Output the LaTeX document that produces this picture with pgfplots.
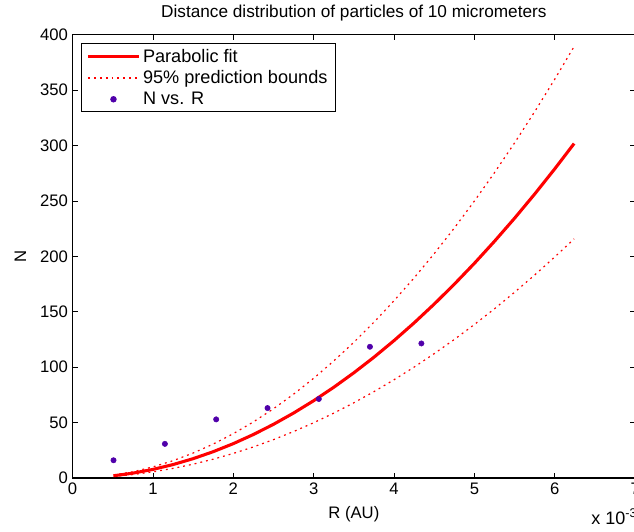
\documentclass[border=0pt]{standalone}
\usepackage{pgfplots}
\pgfplotsset{compat=1.18}
\usepackage{pgfplotstable}
\usepackage{fontspec}
\setmainfont{Liberation Sans}
\definecolor{ptcol}{RGB}{80,0,170}
\pgfplotstableread{
x y
0.51 2.02
0.75 4.36
1.00 7.75
1.25 12.11
1.50 17.44
1.75 23.73
2.00 31.00
2.25 39.23
2.50 48.44
2.75 58.61
3.00 69.75
3.25 81.86
3.50 94.94
3.75 108.98
4.00 124.00
4.25 139.98
4.50 156.94
4.75 174.86
5.00 193.75
5.25 213.61
5.50 234.44
5.75 256.23
6.00 279.00
6.24 301.77
}\fittab
\pgfplotstableread{
x y
0.51 2.61
0.75 5.62
1.00 10.00
1.25 15.62
1.50 22.50
1.75 30.61
2.00 39.99
2.25 50.61
2.50 62.49
2.75 75.61
3.00 89.98
3.25 105.60
3.50 122.47
3.75 140.58
4.00 159.96
4.25 180.57
4.50 202.45
4.75 225.57
5.00 249.94
5.25 275.56
5.50 302.43
5.75 330.54
6.00 359.91
6.24 389.28
}\uppertab
\pgfplotstableread{
x y
0.51 1.44
0.75 3.12
1.00 5.54
1.25 8.66
1.50 12.47
1.75 16.97
2.00 22.17
2.25 28.05
2.50 34.63
2.75 41.91
3.00 49.87
3.25 58.53
3.50 67.88
3.75 77.92
4.00 88.66
4.25 100.09
4.50 112.21
4.75 125.02
5.00 138.53
5.25 152.73
5.50 167.62
5.75 183.20
6.00 199.49
6.24 215.77
}\lowertab
\pgfplotstableread{
x y
0.510 16.0
1.149 30.8
1.787 52.9
2.426 63.1
3.064 71.3
3.700 118.4
4.340 121.4
}\ptstab
\begin{document}
\begin{tikzpicture}
\begin{axis}[
  scale only axis,
  width=422pt, height=332.5pt,
  anchor=south west, at={(0,0)},
  xmin=0, xmax=7, ymin=0, ymax=400,
  xtick={0,1,...,7}, ytick={0,50,...,400},
  tick align=inside,
  major tick length=3.75pt,
  axis line style={line width=0.8pt},
  every tick/.style={black, line width=0.6pt},
  ticklabel style={font=\fontsize{12.5}{14}\selectfont},
  /pgf/number format/assume math mode=true,
  title={Distance distribution of particles of 10 micrometers},
  title style={font=\fontsize{12.9}{14}\selectfont, at={(rel axis cs:0.5,1)}, anchor=base, yshift=6.5pt},
  xlabel={R (AU)},
  xlabel style={font=\fontsize{12.5}{14}\selectfont, at={(axis description cs:0.5,-0.0827)}, anchor=center},
  ylabel={N},
  ylabel style={font=\fontsize{12.5}{14}\selectfont, at={(axis description cs:-0.0925,0.5)}, anchor=center},
  clip=false,
  legend cell align=left,
  legend style={at={(rel axis cs:0.0146,0.981)}, anchor=north west, draw=black, line width=0.8pt,
    font=\fontsize{13.6}{15}\selectfont, row sep=0.8pt, inner xsep=4pt, inner ysep=2pt},
]
\addplot[red, line width=2.3pt, legend image code/.code={\draw[red, line width=2.3pt] (0pt,0pt) -- (38pt,0pt);}] table[x=x,y=y] {\fittab};
\addlegendentry{Parabolic fit}
\addplot[red, line width=0.9pt, dash pattern=on 1.4pt off 3pt, legend image code/.code={\draw[red, line width=0.9pt, dash pattern=on 1.4pt off 3pt] (0pt,0pt) -- (38pt,0pt);}] table[x=x,y=y] {\uppertab};
\addlegendentry{95\% prediction bounds}
\addplot[red, line width=0.9pt, dash pattern=on 1.4pt off 3pt, forget plot] table[x=x,y=y] {\lowertab};
\addplot[only marks, mark=*, mark size=2pt, color=ptcol, legend image code/.code={\fill[ptcol] (19pt,0pt) circle (2pt); \path[draw=none] (0pt,0pt) -- (38pt,0pt);}] table[x=x,y=y] {\ptstab};
\addlegendentry{N vs. R}
\node[anchor=base west, font=\fontsize{13.5}{15}\selectfont, inner sep=0pt] at ([xshift=-33pt, yshift=-35pt]rel axis cs:1,0) {x 10\textsuperscript{-3}};
\end{axis}
\pgfresetboundingbox
\useasboundingbox (-54.4pt,-39.75pt) rectangle (421.1pt,358.5pt);
\end{tikzpicture}
\end{document}
